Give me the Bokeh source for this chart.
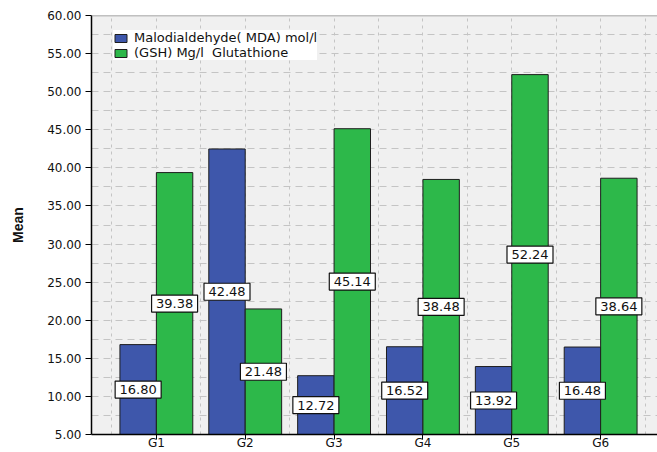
import numpy as np
from bokeh.plotting import figure
from bokeh.models import (Range1d, FixedTicker, SingleIntervalTicker, NumeralTickFormatter,
                          Span, ColumnDataSource)
from bokeh.core.properties import value
from bokeh.embed import file_html
from bokeh.resources import INLINE

groups = ["G1", "G2", "G3", "G4", "G5", "G6"]
mda = [16.80, 42.48, 12.72, 16.52, 13.92, 16.48]
gsh = [39.38, 21.48, 45.14, 38.48, 52.24, 38.64]
series_names = ["Malodialdehyde( MDA) mol/l", "(GSH) Mg/l  Glutathione"]
y_ticks = [5, 10, 15, 20, 25, 30, 35, 40, 45, 50, 55, 60]

BLUE = "#3e57ab"
GREEN = "#2db84a"
BASE = 5.0
BW = 0.41
FONT = "DejaVu Sans"

idx = np.arange(1, len(groups) + 1)

p = figure(width=657, height=452, output_backend="svg", toolbar_location=None,
           x_range=Range1d(0.27, 6.64), y_range=Range1d(5, 60),
           min_border_left=91, min_border_top=15, min_border_right=0, min_border_bottom=0)
p.outline_line_color = None
p.border_fill_color = "white"
p.background_fill_color = "#f0f0f0"

# grids
p.xgrid.ticker = FixedTicker(ticks=list(np.arange(0.5, 7.0, 0.5)))
p.xgrid.grid_line_color = "#c4c4c4"
p.xgrid.grid_line_dash = "3 4"
p.xgrid.grid_line_width = 1
p.ygrid.ticker = SingleIntervalTicker(interval=2.5)
p.ygrid.grid_line_color = "#c4c4c4"
p.ygrid.grid_line_dash = "7 5"
p.ygrid.grid_line_width = 1

top = Span(location=60, dimension="width", line_color="#8a8a8a", line_width=1.5)
p.add_layout(top)

src_b = ColumnDataSource(dict(x=idx - BW / 2, top=mda, bottom=[BASE] * len(mda)))
src_g = ColumnDataSource(dict(x=idx + BW / 2, top=gsh, bottom=[BASE] * len(gsh)))
p.vbar(x="x", top="top", bottom="bottom", width=BW, source=src_b, fill_color=BLUE,
       line_color="#1e1e1e", line_width=1, legend_label=series_names[0])
p.vbar(x="x", top="top", bottom="bottom", width=BW, source=src_g, fill_color=GREEN,
       line_color="#1e1e1e", line_width=1, legend_label=series_names[1])

# value labels
lab_x = list(idx - BW / 2) + list(idx + BW / 2)
vals = mda + gsh
lab_y = [(BASE + v) / 2 for v in vals]
lab_t = ["%.2f" % v for v in vals]
lsrc = ColumnDataSource(dict(x=lab_x, y=lab_y, t=lab_t))
p.rect(x="x", y="y", width=46, height=17, width_units="screen", height_units="screen",
       source=lsrc, fill_color="white", line_color="#111111", line_width=1.2)
p.text(x="x", y="y", text="t", source=lsrc, text_align="center", text_baseline="middle",
       text_font=value(FONT), text_font_size="13px", text_color="#111111")

# axes
p.xaxis.ticker = FixedTicker(ticks=list(idx))
p.xaxis.major_label_overrides = {int(i): g for i, g in zip(idx, groups)}
p.xaxis.major_label_text_font = FONT
p.xaxis.major_label_text_font_size = "12px"
p.xaxis.major_label_text_color = "#111111"
p.xaxis.major_tick_out = 5
p.xaxis.major_tick_in = 0
p.xaxis.minor_tick_line_color = None
p.xaxis.major_label_standoff = -4
p.xaxis.axis_line_color = "black"
p.xaxis.axis_line_width = 1.5
p.xaxis.major_tick_line_color = "black"

p.yaxis.ticker = FixedTicker(ticks=y_ticks)
p.yaxis.formatter = NumeralTickFormatter(format="0.00")
p.yaxis.major_label_text_font = FONT
p.yaxis.major_label_text_font_size = "12px"
p.yaxis.major_label_text_color = "#111111"
p.yaxis.major_tick_out = 6
p.yaxis.major_tick_in = 0
p.yaxis.minor_tick_line_color = None
p.yaxis.major_label_standoff = 4
p.yaxis.axis_line_color = "black"
p.yaxis.axis_line_width = 1.5
p.yaxis.major_tick_line_color = "black"
p.yaxis.axis_label = "Mean"
p.yaxis.axis_label_text_font = "Liberation Sans Narrow, Liberation Sans"
p.yaxis.axis_label_text_font_style = "bold"
p.yaxis.axis_label_text_font_size = "14px"
p.yaxis.axis_label_text_color = "#111111"
p.yaxis.axis_label_standoff = 18

# legend
lg = p.legend[0]
lg.location = (22, 374)
lg.background_fill_color = "white"
lg.background_fill_alpha = 1
lg.border_line_color = None
lg.label_text_font = FONT
lg.label_text_font_size = "13px"
lg.label_text_color = "#111111"
lg.label_text_line_height = 1.0
lg.glyph_width = 15
lg.glyph_height = 10
lg.label_height = 14
lg.label_standoff = 6
lg.spacing = 0
lg.padding = 2
lg.margin = 0

open("out.html", "w").write(file_html(p, INLINE))
